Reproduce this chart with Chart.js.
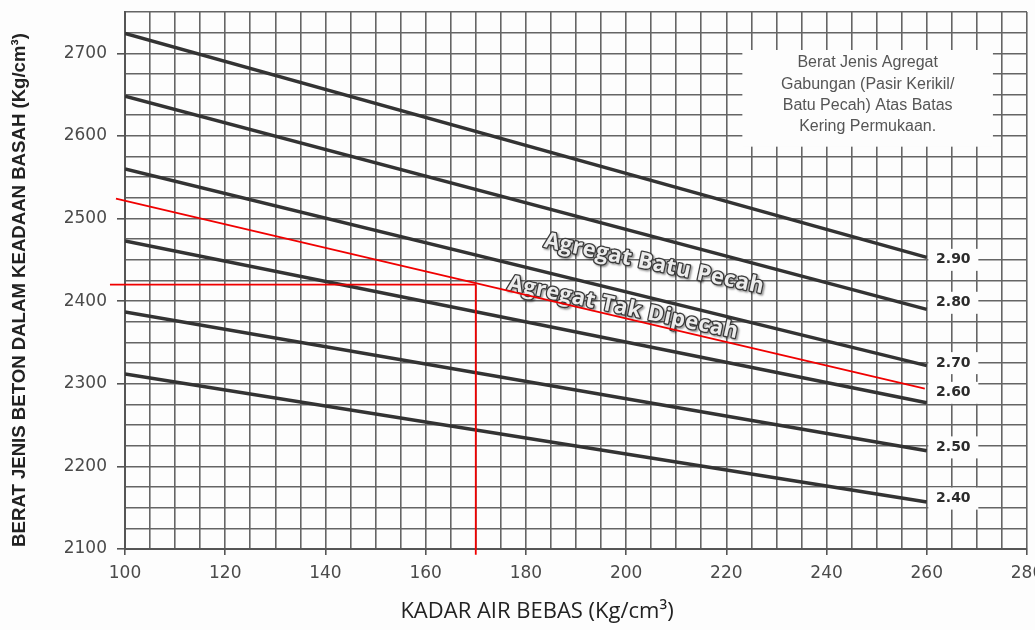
<!DOCTYPE html>
<html>
<head>
<meta charset="utf-8">
<script src="https://cdn.jsdelivr.net/npm/chart.js@4.4.0/dist/chart.umd.min.js"></script>
<style>
html, body { margin: 0; padding: 0; background: #fdfdfd; overflow: hidden; }
canvas { display: block; }
</style>
</head>
<body>
<canvas id="grafik" width="1060" height="630"></canvas>
<script>
// data dibaca dari grafik referensi
const kadarAir = [100, 260];
const kurvaLabel = ['2.90', '2.80', '2.70', '2.60', '2.50', '2.40'];
const beratAwal = [2724, 2648, 2560, 2473, 2387, 2312];
const beratAkhir = [2453, 2390, 2322, 2277, 2219, 2157];
const labelKurvaY = [2450, 2398, 2325, 2289, 2223, 2161];
const labelKurvaX = 265.3;

const xLabels = [100, 120, 140, 160, 180, 200, 220, 240, 260, 280];
const yLabels = [2100, 2200, 2300, 2400, 2500, 2600, 2700];

// garis bantu merah
const bantuDatarX = [97, 170];
const bantuDatarY = [2420, 2420];
const bantuTegakX = [170, 170];
const bantuTegakY = [2420, 2093];
const bantuMiringX = [98.2, 259.6];
const bantuMiringY = [2524, 2294];

const keterangan = ['Berat Jenis Agregat', 'Gabungan (Pasir Kerikil/', 'Batu Pecah) Atas Batas', 'Kering Permukaan.'];
const teksMiring = [
    { text: 'Agregat Batu Pecah', x: 205.6, y: 2445 },
    { text: 'Agregat Tak Dipecah', x: 199.4, y: 2392 }
];

const toPoints = (xs, ys) => xs.map((x, i) => ({ x: x, y: ys[i] }));

const datasets = [];
const merah = { borderColor: '#f00000', borderWidth: 1.8, pointRadius: 0, clip: false, fill: false };
datasets.push(Object.assign({ data: toPoints(bantuDatarX, bantuDatarY) }, merah));
datasets.push(Object.assign({ data: toPoints(bantuTegakX, bantuTegakY) }, merah));
datasets.push(Object.assign({ data: toPoints(bantuMiringX, bantuMiringY) }, merah));
kurvaLabel.forEach((lbl, i) => {
    datasets.push({
        label: lbl,
        data: toPoints(kadarAir, [beratAwal[i], beratAkhir[i]]),
        borderColor: '#333333',
        borderWidth: 3.5,
        pointRadius: 0,
        fill: false
    });
});

const gridColor = '#656565';

const dekorasi = {
    id: 'dekorasi',
    beforeDatasetsDraw(chart) {
        const ctx = chart.ctx;
        const xs = chart.scales.x, ys = chart.scales.y;
        ctx.save();

        // kotak keterangan
        const bx1 = xs.getPixelForValue(223.2), bx2 = xs.getPixelForValue(273.2);
        const by1 = ys.getPixelForValue(2704), by2 = ys.getPixelForValue(2587);
        ctx.fillStyle = '#fdfdfd';
        ctx.fillRect(bx1, by1, bx2 - bx1, by2 - by1);
        ctx.fillStyle = '#555';
        ctx.font = '16px "Liberation Sans", Arial, sans-serif';
        ctx.textAlign = 'center';
        ctx.textBaseline = 'middle';
        const cx = (bx1 + bx2) / 2;
        keterangan.forEach((t, i) => ctx.fillText(t, cx, by1 + 13 + i * 21.3));

        // label kurva
        ctx.font = 'bold 14px "DejaVu Sans", sans-serif';
        kurvaLabel.forEach((lbl, i) => {
            const px = xs.getPixelForValue(labelKurvaX);
            const py = ys.getPixelForValue(labelKurvaY[i]);
            ctx.fillStyle = '#fdfdfd';
            ctx.fillRect(px - 25, py - 11, 50, 22);
            ctx.fillStyle = '#2b2b2b';
            ctx.fillText(lbl, px, py);
        });

        // teks miring
        ctx.font = 'bold 22px "Open Sans", sans-serif';
        ctx.letterSpacing = '0.5px';
        teksMiring.forEach(t => {
            ctx.save();
            ctx.translate(xs.getPixelForValue(t.x), ys.getPixelForValue(t.y));
            ctx.rotate(12 * Math.PI / 180);
            ctx.lineJoin = 'round';
            ctx.shadowColor = 'rgba(0,0,0,0.4)';
            ctx.shadowOffsetX = 1.5;
            ctx.shadowOffsetY = 1.5;
            ctx.shadowBlur = 2;
            ctx.lineWidth = 2.6;
            ctx.strokeStyle = '#3a3a3a';
            ctx.strokeText(t.text, 0, 0);
            ctx.shadowColor = 'transparent';
            ctx.fillStyle = '#ececec';
            ctx.fillText(t.text, 0, 0);
            ctx.restore();
        });
        ctx.letterSpacing = '0px';
        ctx.restore();
    },
    afterDraw(chart) {
        const ctx = chart.ctx;
        ctx.save();
        ctx.fillStyle = '#222';
        ctx.textAlign = 'center';
        ctx.textBaseline = 'middle';
        ctx.font = '22px "Open Sans", sans-serif';
        ctx.fillText('KADAR AIR BEBAS (Kg/cm³)', 537, 612);
        ctx.translate(20, 290);
        ctx.rotate(-Math.PI / 2);
        ctx.font = 'bold 18.6px "Liberation Sans Narrow", "Liberation Sans", Arial, sans-serif';
        ctx.fillText('BERAT JENIS BETON DALAM KEADAAN BASAH (Kg/cm³)', 0, 0);
        ctx.restore();
    }
};

new Chart(document.getElementById('grafik').getContext('2d'), {
    type: 'line',
    data: { datasets: datasets },
    plugins: [dekorasi],
    options: {
        responsive: false,
        animation: false,
        layout: { padding: { top: 12, right: 33, left: 0, bottom: 0 } },
        plugins: { legend: { display: false }, tooltip: { enabled: false } },
        scales: {
            x: {
                type: 'linear',
                min: 100,
                max: 280,
                afterFit: s => { s.height = 81; },
                border: { color: '#555', width: 2 },
                grid: {
                    color: gridColor,
                    lineWidth: 1.6,
                    tickLength: 6,
                    tickColor: c => xLabels.includes(c.tick.value) ? '#555' : 'transparent'
                },
                ticks: {
                    stepSize: 5,
                    autoSkip: false,
                    maxRotation: 0,
                    padding: 8,
                    color: '#4a4a4a',
                    font: { family: '"DejaVu Sans", sans-serif', size: 17 },
                    callback: v => xLabels.includes(v) ? String(v) : ''
                }
            },
            y: {
                min: 2100,
                max: 2750,
                afterFit: s => { s.width = 125; s.paddingTop = 0; s.paddingBottom = 0; },
                border: { color: '#555', width: 2 },
                grid: {
                    color: gridColor,
                    lineWidth: 1.6,
                    tickLength: 8,
                    tickColor: c => yLabels.includes(c.tick.value) ? '#555' : 'transparent'
                },
                ticks: {
                    stepSize: 25,
                    autoSkip: false,
                    padding: 10,
                    color: '#4a4a4a',
                    font: { family: '"DejaVu Sans", sans-serif', size: 17 },
                    callback: v => yLabels.includes(v) ? String(v) : ''
                }
            }
        }
    }
});
</script>
</body>
</html>
